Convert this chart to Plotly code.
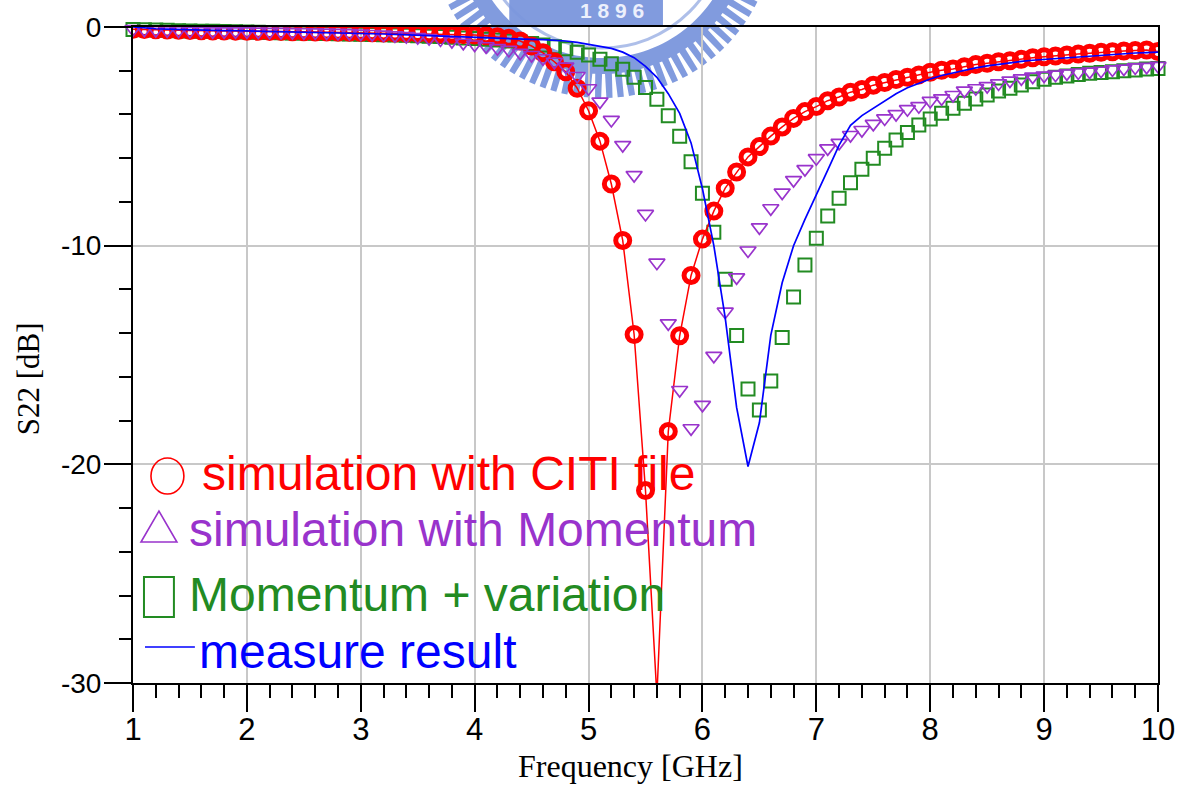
import math
import plotly.graph_objects as go

# Frequency sweep [GHz]
freq = [
    1.0, 1.1, 1.2, 1.3, 1.4, 1.5, 1.6, 1.7, 1.8, 1.9,
    2.0, 2.1, 2.2, 2.3, 2.4, 2.5, 2.6, 2.7, 2.8, 2.9,
    3.0, 3.1, 3.2, 3.3, 3.4, 3.5, 3.6, 3.7, 3.8, 3.9,
    4.0, 4.1, 4.2, 4.3, 4.4, 4.5, 4.6, 4.7, 4.8, 4.9,
    5.0, 5.1, 5.2, 5.3, 5.4, 5.5, 5.6, 5.7, 5.8, 5.9,
    6.0, 6.1, 6.2, 6.3, 6.4, 6.5, 6.6, 6.7, 6.8, 6.9,
    7.0, 7.1, 7.2, 7.3, 7.4, 7.5, 7.6, 7.7, 7.8, 7.9,
    8.0, 8.1, 8.2, 8.3, 8.4, 8.5, 8.6, 8.7, 8.8, 8.9,
    9.0, 9.1, 9.2, 9.3, 9.4, 9.5, 9.6, 9.7, 9.8, 9.9,
    10.0,
]

# S22 [dB], simulation with CITI file
s22_citi = [
    -0.10, -0.12, -0.13, -0.14, -0.15, -0.16, -0.17, -0.18, -0.18, -0.19,
    -0.20, -0.20, -0.21, -0.21, -0.22, -0.22, -0.23, -0.23, -0.24, -0.24,
    -0.25, -0.26, -0.27, -0.28, -0.29, -0.30, -0.31, -0.32, -0.33, -0.35,
    -0.37, -0.40, -0.45, -0.52, -0.64, -0.87, -1.18, -1.59, -2.05, -2.80,
    -3.83, -5.22, -7.18, -9.76, -14.06, -21.20, -30.60, -18.50, -14.12, -11.36,
    -9.70, -8.42, -7.37, -6.63, -5.94, -5.47, -4.99, -4.57, -4.18, -3.87,
    -3.64, -3.37, -3.20, -2.98, -2.86, -2.66, -2.54, -2.40, -2.30, -2.19,
    -2.07, -1.98, -1.92, -1.82, -1.72, -1.66, -1.59, -1.54, -1.48, -1.41,
    -1.36, -1.33, -1.28, -1.24, -1.20, -1.16, -1.13, -1.10, -1.08, -1.05,
    -1.12,
]

# S22 [dB], simulation with Momentum
s22_momentum = [
    -0.10, -0.12, -0.14, -0.15, -0.16, -0.18, -0.19, -0.20, -0.20, -0.20,
    -0.20, -0.21, -0.22, -0.22, -0.23, -0.24, -0.25, -0.26, -0.27, -0.28,
    -0.30, -0.32, -0.35, -0.38, -0.42, -0.46, -0.51, -0.57, -0.64, -0.72,
    -0.80, -0.88, -0.97, -1.05, -1.18, -1.28, -1.43, -1.59, -1.81, -2.24,
    -2.80, -3.41, -4.25, -5.40, -6.77, -8.55, -10.78, -13.55, -16.60, -18.35,
    -17.28, -15.04, -13.02, -11.45, -10.22, -9.16, -8.29, -7.57, -7.00, -6.50,
    -6.00, -5.55, -5.30, -4.94, -4.71, -4.43, -4.18, -3.98, -3.76, -3.62,
    -3.38, -3.26, -3.11, -2.91, -2.80, -2.70, -2.58, -2.45, -2.35, -2.27,
    -2.22, -2.18, -2.12, -2.08, -2.04, -2.00, -1.94, -1.90, -1.85, -1.82,
    -1.78,
]

# S22 [dB], Momentum + variation
s22_variation = [
    -0.12, -0.13, -0.14, -0.15, -0.17, -0.18, -0.19, -0.20, -0.21, -0.22,
    -0.23, -0.24, -0.25, -0.26, -0.27, -0.28, -0.29, -0.30, -0.31, -0.32,
    -0.33, -0.34, -0.35, -0.37, -0.38, -0.40, -0.42, -0.44, -0.47, -0.50,
    -0.53, -0.56, -0.60, -0.64, -0.69, -0.75, -0.82, -0.90, -1.00, -1.15,
    -1.28, -1.47, -1.68, -1.93, -2.30, -2.77, -3.30, -4.06, -5.00, -6.16,
    -7.60, -9.39, -11.54, -14.11, -16.55, -17.51, -16.19, -14.20, -12.35, -10.88,
    -9.66, -8.64, -7.83, -7.12, -6.51, -6.00, -5.55, -5.17, -4.82, -4.48,
    -4.21, -3.95, -3.72, -3.49, -3.29, -3.11, -2.93, -2.80, -2.65, -2.50,
    -2.39, -2.30, -2.24, -2.17, -2.12, -2.08, -2.05, -2.00, -1.97, -1.92,
    -1.90,
]

# S22 [dB], measure result
s22_measured = [
    0.00, -0.05, -0.08, -0.10, -0.12, -0.13, -0.15, -0.16, -0.17, -0.17,
    -0.18, -0.19, -0.20, -0.21, -0.22, -0.22, -0.23, -0.24, -0.25, -0.26,
    -0.28, -0.30, -0.32, -0.34, -0.36, -0.38, -0.40, -0.42, -0.44, -0.47,
    -0.50, -0.52, -0.54, -0.55, -0.56, -0.57, -0.58, -0.60, -0.64, -0.70,
    -0.79, -0.88, -0.98, -1.15, -1.40, -1.80, -2.30, -3.05, -3.95, -5.30,
    -7.40, -10.00, -13.30, -17.40, -20.10, -18.10, -14.10, -11.70, -10.00, -8.80,
    -7.70, -6.55, -5.40, -4.50, -4.05, -3.72, -3.40, -3.05, -2.78, -2.57,
    -2.38, -2.22, -2.10, -1.98, -1.87, -1.78, -1.70, -1.62, -1.57, -1.52,
    -1.48, -1.44, -1.40, -1.36, -1.32, -1.28, -1.25, -1.22, -1.19, -1.17,
    -1.15,
]

x_ticks = [1, 2, 3, 4, 5, 6, 7, 8, 9, 10]
y_ticks = [0, -10, -20, -30]
y_tick_text = ["0", "-10", "-20", "-30"]

legend_labels = [
    "simulation with CITI file",
    "simulation with Momentum",
    "Momentum + variation",
    "measure result",
]

RED = "#FF0000"
PURPLE = "#9933CC"
GREEN = "#228B22"
BLUE = "#0000FF"
SANS = "Liberation Sans, Arial, sans-serif"
NARROW = "Liberation Sans Narrow, Arial Narrow, Liberation Sans, sans-serif"
SERIF = "Liberation Serif, Times New Roman, serif"

W, H = 1187, 787
L, R, T, B = 133, 27, 27, 104
PW, PH = W - L - R, H - T - B


def paper(px, py):
    """Pixel position on the page -> paper coordinates."""
    return (px - L) / PW, (H - B - py) / PH


fig = go.Figure()

fig.add_trace(go.Scatter(
    x=freq, y=s22_variation, mode="markers", cliponaxis=False,
    marker=dict(symbol="square-open", size=13, color=GREEN,
                line=dict(color=GREEN, width=2)),
    name=legend_labels[2],
))
fig.add_trace(go.Scatter(
    x=freq, y=s22_citi, mode="lines+markers", cliponaxis=True,
    line=dict(color=RED, width=1.5),
    marker=dict(symbol="circle-open", size=14, color=RED,
                line=dict(color=RED, width=5)),
    name=legend_labels[0],
))
fig.add_trace(go.Scatter(
    x=freq, y=s22_momentum, mode="markers", cliponaxis=False,
    marker=dict(symbol="triangle-down-open", size=14, color=PURPLE,
                line=dict(color=PURPLE, width=1.7)),
    name=legend_labels[1],
))
fig.add_trace(go.Scatter(
    x=freq, y=s22_measured, mode="lines", cliponaxis=False,
    line=dict(color=BLUE, width=1.7),
    name=legend_labels[3],
))

shapes = []

# --- faint seal watermark at the top ---
WM = "rgb(122,150,220)"
cx, cy = 603, -76
N = 96
step = 2 * math.pi / N
pts = []
for i in range(N):
    a = i * step
    for frac, r in ((0.0, 150), (0.08, 174), (0.62, 174), (0.7, 150)):
        ang = a + frac * step
        pts.append(paper(cx + r * math.cos(ang), cy + r * math.sin(ang)))
outer = "M" + " L".join(f"{x:.5f},{y:.5f}" for x, y in pts) + " Z"
inner_pts = []
for i in range(160, 0, -1):
    ang = 2 * math.pi * i / 160
    inner_pts.append(paper(cx + 134 * math.cos(ang), cy + 134 * math.sin(ang)))
inner = "M" + " L".join(f"{x:.5f},{y:.5f}" for x, y in inner_pts) + " Z"
shapes.append(dict(type="path", xref="paper", yref="paper", path=outer + " " + inner,
                   fillcolor=WM, fillrule="evenodd", line=dict(width=0),
                   layer="below", opacity=0.95))
x0, y0 = paper(cx - 124, cy - 124)
x1, y1 = paper(cx + 124, cy + 124)
shapes.append(dict(type="circle", xref="paper", yref="paper", x0=x0, y0=y0, x1=x1, y1=y1,
                   line=dict(color=WM, width=3), layer="below", opacity=0.6))
bx0, by0 = paper(510, -10)
bx1, by1 = paper(664, 25)
shapes.append(dict(type="rect", xref="paper", yref="paper", x0=bx0, y0=by0, x1=bx1, y1=by1,
                   fillcolor=WM, line=dict(width=0), layer="below", opacity=0.95))

# --- legend symbols ---
lx0, ly0 = paper(151, 458)
lx1, ly1 = paper(184, 494)
shapes.append(dict(type="circle", xref="paper", yref="paper", x0=lx0, y0=ly0, x1=lx1, y1=ly1,
                   line=dict(color=RED, width=1.6)))
t1, t2, t3 = paper(141, 542), paper(177, 542), paper(159, 511)
shapes.append(dict(type="path", xref="paper", yref="paper",
                   path=f"M{t1[0]},{t1[1]} L{t2[0]},{t2[1]} L{t3[0]},{t3[1]} Z",
                   line=dict(color=PURPLE, width=1.6)))
sx0, sy0 = paper(144, 577)
sx1, sy1 = paper(174, 617)
shapes.append(dict(type="rect", xref="paper", yref="paper", x0=sx0, y0=sy0, x1=sx1, y1=sy1,
                   line=dict(color=GREEN, width=2)))
m0 = paper(145, 647)
m1 = paper(195, 647)
shapes.append(dict(type="line", xref="paper", yref="paper", x0=m0[0], y0=m0[1], x1=m1[0], y1=m1[1],
                   line=dict(color=BLUE, width=1.6)))

annotations = []
legend_pos = [(200, 473), (187, 529), (187, 594), (197, 651)]
legend_cols = [RED, PURPLE, GREEN, BLUE]
for text, (px, py), col in zip(legend_labels, legend_pos, legend_cols):
    ax, ay = paper(px, py)
    annotations.append(dict(x=ax, y=ay, xref="paper", yref="paper", text=text,
                            showarrow=False, xanchor="left", yanchor="middle",
                            font=dict(family=SANS, size=48, color=col)))

# axis titles
tx, ty = paper(631, 766)
annotations.append(dict(x=tx, y=ty, xref="paper", yref="paper", text="Frequency [GHz]",
                        showarrow=False, xanchor="center", yanchor="middle",
                        font=dict(family=SERIF, size=32, color="black")))
vx, vy = paper(28, 379)
annotations.append(dict(x=vx, y=vy, xref="paper", yref="paper", text="S22 [dB]",
                        showarrow=False, xanchor="center", yanchor="middle", textangle=-90,
                        font=dict(family=SERIF, size=31, color="black")))
# seal year
nx, ny = paper(613, 10)
annotations.append(dict(x=nx, y=ny, xref="paper", yref="paper", text="<b>1 8 9 6</b>",
                        showarrow=False, xanchor="center", yanchor="middle",
                        font=dict(family=SANS, size=21, color="rgb(236,240,252)")))

fig.update_layout(
    width=W, height=H,
    margin=dict(l=L, r=R, t=T, b=B, pad=0),
    paper_bgcolor="white", plot_bgcolor="white",
    showlegend=False,
    shapes=shapes,
    annotations=annotations,
    xaxis=dict(
        range=[1, 10], tickvals=x_ticks, ticktext=[str(v) for v in x_ticks],
        ticks="outside", ticklen=27, tickwidth=2, tickcolor="black",
        showline=True, linecolor="black", linewidth=2, mirror=True,
        showgrid=True, gridcolor="#C8C8C8", gridwidth=1.5, zeroline=False,
        tickfont=dict(family=NARROW, size=31, color="black"),
        ticklabelstandoff=-9,
        minor=dict(dtick=0.2, ticks="outside", ticklen=13, tickwidth=1.5,
                   tickcolor="black", showgrid=False),
    ),
    yaxis=dict(
        range=[-30, 0], tickvals=y_ticks, ticktext=y_tick_text,
        ticks="outside", ticklen=27, tickwidth=2, tickcolor="black",
        showline=True, linecolor="black", linewidth=2, mirror=True,
        showgrid=True, gridcolor="#C8C8C8", gridwidth=1.5, zeroline=False,
        tickfont=dict(family=SANS, size=28, color="black"),
        ticklabelstandoff=-3,
        minor=dict(dtick=2, ticks="outside", ticklen=12, tickwidth=1.5,
                   tickcolor="black", showgrid=False),
    ),
)

fig.write_html("out.html")
